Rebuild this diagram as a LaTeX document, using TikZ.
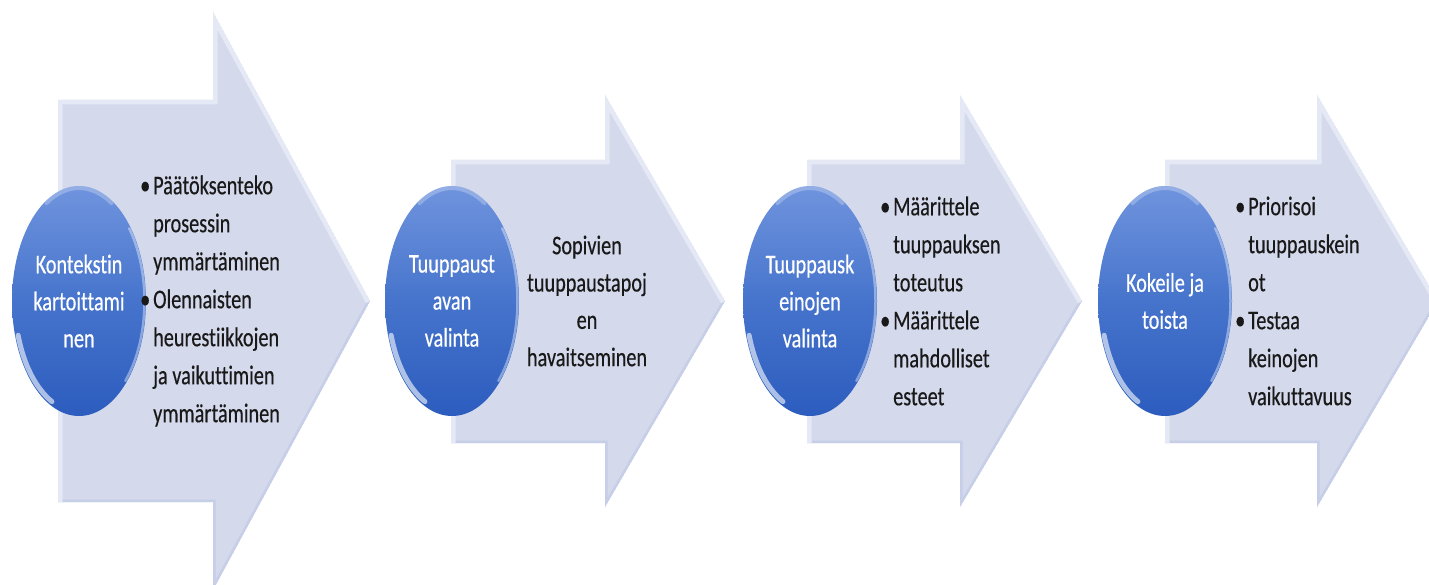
\documentclass[tikz,border=0pt]{standalone}
\usepackage{fontspec}
\setmainfont{Carlito}[FakeStretch=0.75, Ligatures=NoCommon, FakeBold=0.4]
\usetikzlibrary{shapes.geometric}
\definecolor{arrowfill}{RGB}{212,217,235}
\definecolor{arrowlight}{RGB}{229,232,245}
\definecolor{arrowdark}{RGB}{198,206,232}
\definecolor{ctop}{RGB}{112,148,222}
\definecolor{cmid}{RGB}{70,116,204}
\definecolor{cbot}{RGB}{44,92,190}
\newcommand\mybul{\makebox[13pt][l]{\textbullet}}
\newcommand\myind{\hspace*{13pt}}
\newcommand\myarrow[7]{%
  \begin{scope}
    \clip (#1,#4)--(#2,#4)--(#2,#6)--(#3,301)--(#2,#7)--(#2,#5)--(#1,#5)--cycle;
    \fill[arrowfill] (#1,#4)--(#2,#4)--(#2,#6)--(#3,301)--(#2,#7)--(#2,#5)--(#1,#5)--cycle;
    \draw[arrowdark, line width=5pt] (#3,301)--(#2,#7)--(#2,#5)--(#1,#5);
    \draw[arrowlight, line width=9pt, line join=miter] (#1,#5)--(#1,#4)--(#2,#4)--(#2,#6)--(#3,301);
  \end{scope}}
\tikzset{
  bubble/.style={ellipse, minimum width=134pt, minimum height=230pt, inner sep=0pt,
    top color=ctop, bottom color=cbot, middle color=cmid, text=white,
    font=\fontsize{27}{37}\selectfont, align=center,
    path picture={
      \draw[white, line width=5pt, opacity=0.6, line cap=round]
        (path picture bounding box.center) ++(198:64pt and 111pt)
        arc[start angle=198, end angle=245, x radius=64pt, y radius=111pt];
      \draw[white, line width=2.5pt, opacity=0.4, line cap=round]
        (path picture bounding box.center) ++(-45:65.5pt and 113pt)
        arc[start angle=-45, end angle=40, x radius=65.5pt, y radius=113pt];
      \draw[white, line width=4pt, opacity=0.25, line cap=round]
        (path picture bounding box.center) ++(60:65pt and 113pt)
        arc[start angle=60, end angle=120, x radius=65pt, y radius=113pt];
    }},
  bodytext/.style={inner sep=0pt, font=\fontsize{27}{38}\selectfont, align=left, anchor=west, text=black!90},
  centertext/.style={inner sep=0pt, font=\fontsize{27}{37.3}\selectfont, align=center, text=black!90},
}
\begin{document}
\begin{tikzpicture}[x=1pt, y=-1pt]
  \useasboundingbox (0,0) rectangle (1429,585);
  \clip (0,0) rectangle (1429,585);
  \fill[white] (0,0) rectangle (1429,585);
  % arrows
  \myarrow{58}{213}{370}{100}{502}{12}{590}
  \myarrow{451}{605}{725}{160}{443}{95}{507}
  \myarrow{807}{960}{1082}{160}{443}{95}{507}
  \myarrow{1165}{1317}{1438}{160}{443}{95}{507}
  % circles
  \node[bubble] (c1) at (79,301) {Kontekstin\\kartoittami\\nen};
  \node[bubble] (c2) at (452,301) {Tuuppaust\\avan\\valinta};
  \node[bubble] (c3) at (810,301) {Tuuppausk\\einojen\\valinta};
  \node[bubble] (c4) at (1165,301) {Kokeile ja\\toista};
  % texts
  \node[bodytext] (t1) at (140,301) {\mybul Päätöksenteko\\\myind prosessin\\\myind ymmärtäminen\\\mybul Olennaisten\\\myind heurestiikkojen\\\myind ja vaikuttimien\\\myind ymmärtäminen};
  \node[centertext] (t2) at (587,301) {Sopivien\\tuuppaustapoj\\en\\havaitseminen};
  \node[bodytext] (t3) at (880,301) {\mybul Määrittele\\\myind tuuppauksen\\\myind toteutus\\\mybul Määrittele\\\myind mahdolliset\\\myind esteet};
  \node[bodytext] (t4) at (1235,301) {\mybul Priorisoi\\\myind tuuppauskein\\\myind ot\\\mybul Testaa\\\myind keinojen\\\myind vaikuttavuus};
\end{tikzpicture}
\end{document}
